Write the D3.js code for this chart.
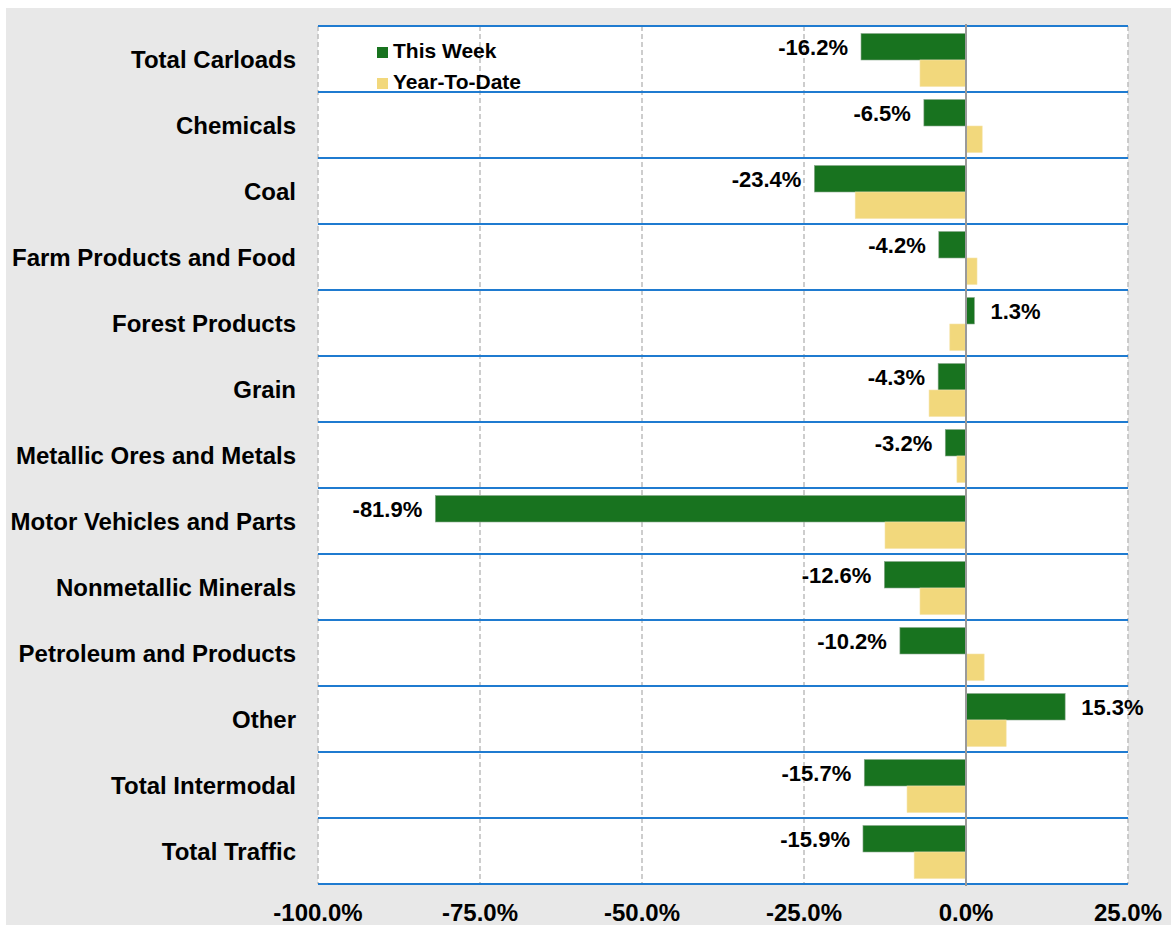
<!DOCTYPE html>
<html>
<head>
<meta charset="utf-8">
<script src="https://cdn.jsdelivr.net/npm/d3@7"></script>
<style>
  body { margin: 0; background: #fff; }
  text { font-family: Arial, "Liberation Sans", sans-serif; font-weight: bold; fill: #000; }
</style>
</head>
<body>
<div id="chart"></div>
<script>
// data
const categories = ["Total Carloads", "Chemicals", "Coal", "Farm Products and Food", "Forest Products",
  "Grain", "Metallic Ores and Metals", "Motor Vehicles and Parts", "Nonmetallic Minerals",
  "Petroleum and Products", "Other", "Total Intermodal", "Total Traffic"];
const thisWeek = [-16.2, -6.5, -23.4, -4.2, 1.3, -4.3, -3.2, -81.9, -12.6, -10.2, 15.3, -15.7, -15.9];
const yearToDate = [-7.1, 2.5, -17.1, 1.7, -2.5, -5.7, -1.4, -12.5, -7.1, 2.8, 6.2, -9.1, -8.0];
const xTicks = [-100, -75, -50, -25, 0, 25];
const seriesNames = ["This Week", "Year-To-Date"];

const width = 1171;
const height = 925;
const margin = { top: 26, right: 43, bottom: 41, left: 318 };
const boundedwidth = width - margin.left - margin.right;
const boundedheight = height - margin.top - margin.bottom;

const green = "#18731f";
const yellow = "#f2d87c";
const blue = "#1f7bd0";

const svg = d3.select("#chart").append("svg")
    .attr("width", width)
    .attr("height", height);

// grey backdrop
svg.append("rect")
    .attr("x", 6).attr("y", 8)
    .attr("width", width - 6).attr("height", height - 8)
    .attr("fill", "#e8e8e8");

const g = svg.append("g")
    .attr("transform", `translate(${margin.left},${margin.top})`);

const xScale = d3.scaleLinear().domain([-100, 25]).range([0, boundedwidth]);
const yScale = d3.scaleBand().domain(categories).range([0, boundedheight]);

g.append("rect")
    .attr("width", boundedwidth).attr("height", boundedheight)
    .attr("fill", "#fff");

// dashed vertical grid
g.selectAll(".grid")
    .data(xTicks.filter(d => d !== 0))
    .join("line")
    .attr("x1", d => xScale(d)).attr("x2", d => xScale(d))
    .attr("y1", 0).attr("y2", boundedheight)
    .attr("stroke", "#bdbdbd")
    .attr("stroke-width", 1.5)
    .attr("stroke-dasharray", "5,3");

// bars
const bh = 26.5;
const off = 7.5;
g.selectAll(".week")
    .data(thisWeek)
    .join("rect")
    .attr("x", d => xScale(Math.min(0, d)))
    .attr("y", (d, i) => yScale(categories[i]) + off)
    .attr("width", d => Math.abs(xScale(d) - xScale(0)))
    .attr("height", bh)
    .attr("fill", green)
    .attr("stroke", "#8aa88c").attr("stroke-width", 0.6);

g.selectAll(".ytd")
    .data(yearToDate)
    .join("rect")
    .attr("x", d => xScale(Math.min(0, d)))
    .attr("y", (d, i) => yScale(categories[i]) + off + bh)
    .attr("width", d => Math.abs(xScale(d) - xScale(0)))
    .attr("height", bh)
    .attr("fill", yellow)
    .attr("stroke", "#f5e3a8").attr("stroke-width", 0.6);

// blue separators
g.selectAll(".sep")
    .data(d3.range(categories.length + 1))
    .join("line")
    .attr("x1", 0).attr("x2", boundedwidth)
    .attr("y1", i => i * yScale.step()).attr("y2", i => i * yScale.step())
    .attr("stroke", blue)
    .attr("stroke-width", 2);

// zero line
g.append("line")
    .attr("x1", xScale(0)).attr("x2", xScale(0))
    .attr("y1", -2).attr("y2", boundedheight + 2)
    .attr("stroke", "#9a9a9a")
    .attr("stroke-width", 2);

// value labels
g.selectAll(".lbl")
    .data(thisWeek)
    .join("text")
    .attr("x", d => d < 0 ? xScale(d) - 13 : xScale(d) + 16)
    .attr("y", (d, i) => yScale(categories[i]) + off + bh / 2)
    .attr("dy", "0.36em")
    .attr("text-anchor", d => d < 0 ? "end" : "start")
    .style("font-size", "22px")
    .text(d => d.toFixed(1) + "%");

// category labels
svg.append("g")
    .selectAll("text")
    .data(categories)
    .join("text")
    .attr("x", margin.left - 22)
    .attr("y", d => margin.top + yScale(d) + yScale.bandwidth() / 2)
    .attr("dy", "0.36em")
    .attr("text-anchor", "end")
    .style("font-size", "24px")
    .text(d => d);

// x tick labels
svg.append("g")
    .selectAll("text")
    .data(xTicks)
    .join("text")
    .attr("x", d => margin.left + xScale(d))
    .attr("y", 921)
    .attr("text-anchor", "middle")
    .style("font-size", "24px")
    .text(d => d.toFixed(1) + "%");

// legend
const legend = svg.append("g").attr("transform", "translate(377,47)");
legend.selectAll("rect")
    .data(seriesNames)
    .join("rect")
    .attr("x", 0)
    .attr("y", (d, i) => i * 31)
    .attr("width", 11).attr("height", 11)
    .attr("fill", (d, i) => i === 0 ? green : yellow);
legend.selectAll("text")
    .data(seriesNames)
    .join("text")
    .attr("x", 16)
    .attr("y", (d, i) => i * 31 + 11)
    .style("font-size", "21px")
    .text(d => d);
</script>
</body>
</html>
